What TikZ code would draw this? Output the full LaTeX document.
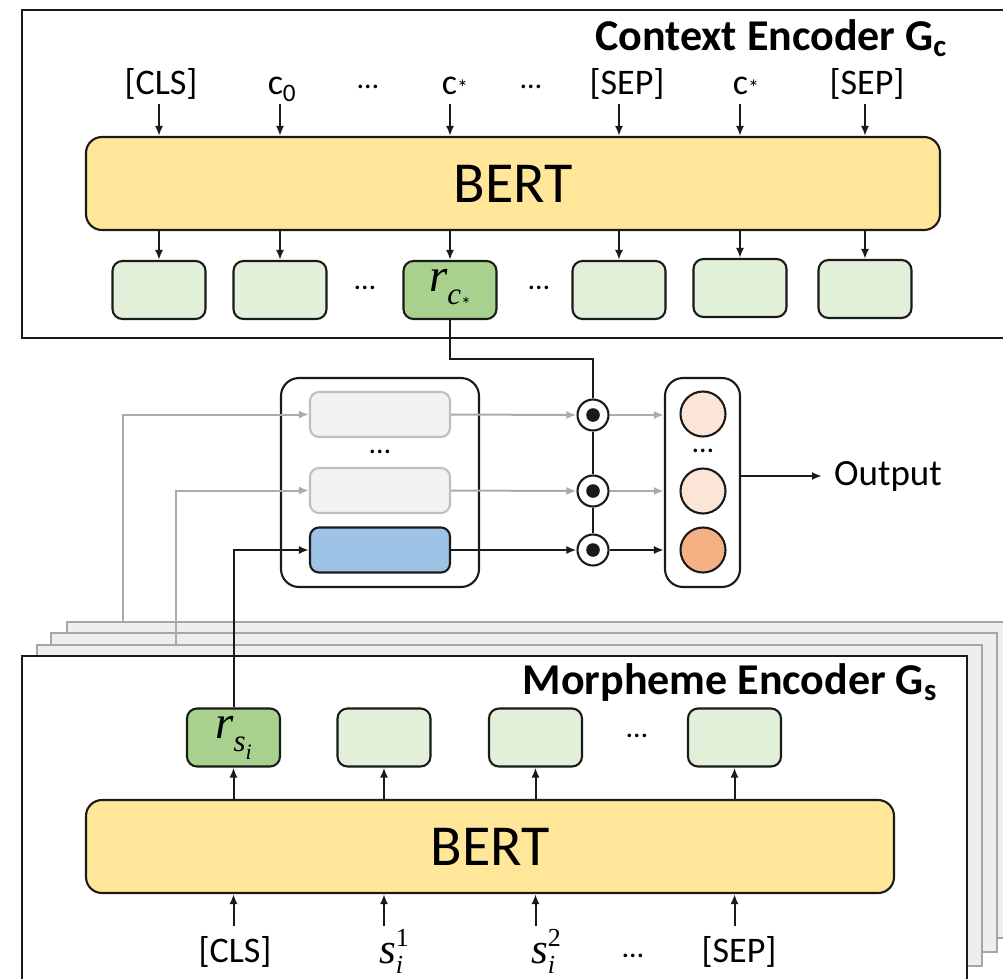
\documentclass[tikz,border=0pt]{standalone}
\usepackage{fontspec}
\setmainfont{Carlito}
\newfontfamily\symfont{Liberation Serif}
\usetikzlibrary{arrows.meta}

\definecolor{bertfill}{HTML}{FFE699}
\definecolor{vecfill}{HTML}{E2F0D9}
\definecolor{vecdark}{HTML}{A9D18E}
\definecolor{bluefill}{HTML}{9DC3E6}
\definecolor{fadefill}{HTML}{F2F2F2}
\definecolor{fadedraw}{HTML}{BFBFBF}
\definecolor{orlight}{HTML}{FBE5D6}
\definecolor{ordark}{HTML}{F4B183}
\definecolor{backfill}{HTML}{EEEEEE}
\definecolor{backdraw}{HTML}{A6A6A6}
\definecolor{linegray}{HTML}{ABABAB}
\definecolor{ink}{HTML}{1A1A1A}

% italic symbols with hand-set scripts
\newcommand{\vi}[1]{{\symfont\itshape #1}}
\newcommand{\rcstar}{\vi{r}\raisebox{-0.28em}{\fontsize{31}{31}\selectfont\vi{c}\raisebox{-0.22em}{\fontsize{20}{20}\selectfont *}}}
\newcommand{\rsi}{\vi{r}\raisebox{-0.28em}{\fontsize{31}{31}\selectfont\vi{s}\raisebox{-0.25em}{\fontsize{22}{22}\selectfont\vi{i}}}}
\newcommand{\sis}[1]{\vi{s}\rlap{\raisebox{0.38em}{\fontsize{26}{26}\selectfont\symfont #1}}\raisebox{-0.24em}{\fontsize{26}{26}\selectfont\vi{i}}\hspace{0.2em}}

\begin{document}
\begin{tikzpicture}[x=1pt,y=-1pt,
  frame/.style={draw=ink, line width=2.2pt, fill=white, inner sep=0},
  backframe/.style={draw=backdraw, line width=1.9pt, fill=backfill, inner sep=0},
  bert/.style={draw=ink, line width=2.1pt, fill=bertfill, rounded corners=16pt,
    inner sep=0, font=\fontsize{58}{60}\selectfont},
  vec/.style={draw=ink, line width=2.1pt, fill=vecfill, rounded corners=10pt,
    minimum width=93pt, minimum height=58pt, inner sep=0},
  vecsel/.style={vec, fill=vecdark, font=\fontsize{47}{48}\selectfont},
  hid/.style={draw=ink, line width=2.1pt, rounded corners=9pt,
    minimum width=140pt, minimum height=45pt, inner sep=0},
  fade/.style={hid, draw=fadedraw, fill=fadefill},
  holder/.style={draw=ink, line width=2.1pt, fill=white, rounded corners=18pt, inner sep=0},
  odot/.style={circle, draw=ink, line width=2.1pt, fill=white, minimum size=31pt, inner sep=0,
    path picture={\fill[ink] (path picture bounding box.center) circle (6.8pt);}},
  prob/.style={circle, draw=ink, line width=2.1pt, minimum size=45pt, inner sep=0},
  tok/.style={font=\fontsize{36}{40}\selectfont, anchor=base, inner sep=0},
  mtok/.style={font=\fontsize{43}{46}\selectfont, anchor=base, inner sep=0},
  dots/.style={font=\fontsize{30}{32}\selectfont, inner sep=0},
  title/.style={font=\fontsize{44}{46}\selectfont\bfseries, anchor=base east, inner sep=0},
  arr/.style={-{Latex[length=10pt,width=8pt]}, line width=2pt, draw=ink},
  garr/.style={arr, draw=linegray},
  wire/.style={line width=2pt, draw=ink}
]
\useasboundingbox (0,0) rectangle (1003,978);
\begin{scope}
\clip (0,0) rectangle (1003,978);

% ---------------- context encoder ----------------
\node[frame, minimum width=998pt, minimum height=328pt] (ctx) at (521,174) {};
\node[title] (ctitle) at (947,50) {Context Encoder G\textsubscript{c}};

\node[tok] (t1) at (161,94) {[CLS]};
\node[tok] (t2) at (282,94) {c\textsubscript{0}};
\node[dots] (t3) at (368,87) {…};
\node[tok] (t4) at (455,94) {c\raisebox{-0.05em}{\fontsize{22}{22}\selectfont *}};
\node[dots] (t5) at (531,87) {…};
\node[tok] (t6) at (627,94) {[SEP]};
\node[tok] (t7) at (746,94) {c\raisebox{-0.05em}{\fontsize{22}{22}\selectfont *}};
\node[tok] (t8) at (867,94) {[SEP]};

\node[bert, minimum width=854pt, minimum height=93pt] (bc) at (513,183.5) {BERT};

\node[vec] (v1) at (159,290) {};
\node[vec] (v2) at (280,290) {};
\node[dots] (vd1) at (365,288) {…};
\node[vecsel] (rc) at (450,290) {\rcstar};
\node[dots] (vd2) at (539,288) {…};
\node[vec] (v4) at (619,290) {};
\node[vec] (v5) at (740,288) {};
\node[vec] (v6) at (865,289) {};

\foreach \v in {v1,v2,rc,v4,v5,v6} {
  \coordinate (in-\v) at (\v.north |- 0,104);
  \draw[arr] (in-\v) -- (in-\v |- bc.north);
  \draw[arr] (\v.north |- bc.south) -- (\v.north);
}

% ---------------- morpheme encoder stack ----------------
\node[backframe, minimum width=945pt, minimum height=316pt] (bk3) at (539.5,780) {};
\node[backframe, minimum width=946pt, minimum height=319pt] (bk2) at (524,792.5) {};
\node[backframe, minimum width=945pt, minimum height=321pt] (bk1) at (509.5,805.5) {};
\node[frame, minimum width=945pt, minimum height=334pt] (mor) at (494.5,823) {};
\node[title] (mtitle) at (937,694) {Morpheme Encoder G\textsubscript{s}};

\node[vecsel] (rs) at (233.5,737.5) {\rsi};
\node[vec] (s2) at (384,737.5) {};
\node[vec] (s3) at (535.5,737.5) {};
\node[dots] (sd) at (637,736) {…};
\node[vec] (s4) at (734.5,737.5) {};

\node[bert, minimum width=808pt, minimum height=93pt] (bs) at (490,846.5) {BERT};

\node[tok] (b1) at (235,962) {[CLS]};
\node[mtok] (b2) at (391,963) {\sis{1}};
\node[mtok] (b3) at (543,963) {\sis{2}};
\node[dots] (b4) at (633,956) {…};
\node[tok] (b5) at (739,962) {[SEP]};

\foreach \v in {rs,s2,s3,s4} {
  \coordinate (up-\v) at (\v.south |- 0,926);
  \draw[arr] (up-\v) -- (up-\v |- bs.south);
  \draw[arr] (\v.south |- bs.north) -- (\v.south);
}

% ---------------- attention / scoring ----------------
\node[holder, minimum width=198pt, minimum height=209pt] (hold) at (380,482.5) {};
\node[fade] (h1) at (380,414.5) {};
\node[dots] (hd) at (380,452) {…};
\node[fade] (h2) at (380,490.5) {};
\node[hid, fill=bluefill] (h3) at (380,550) {};

\node[holder, minimum width=75pt, minimum height=209pt] (oc) at (702.5,482.5) {};
\node[prob, fill=orlight] (p1) at (703,414) {};
\node[dots] (pd) at (703,451) {…};
\node[prob, fill=orlight] (p2) at (703,491) {};
\node[prob, fill=ordark] (p3) at (703,550) {};

\node[odot] (m1) at (593,415) {};
\node[odot] (m2) at (593,491) {};
\node[odot] (m3) at (593,550) {};

% context vector feeding the products
\draw[wire] (rc.south) -- ++(0,39) -| (m1.north);
\draw[wire] (m1.south) -- (m2.north);
\draw[wire] (m2.south) -- (m3.north);

% morpheme vectors feeding the hidden boxes
\coordinate (g1) at (123,622);
\coordinate (g2) at (176,645);
\draw[garr] (g1) |- (h1.west);
\draw[garr] (g2) |- (h2.west);
\draw[arr] (rs.north) |- (h3.west);

\draw[garr] (h1.east) -- (m1.west);
\draw[garr] (h2.east) -- (m2.west);
\draw[arr] (h3.east) -- (m3.west);
\draw[garr] (m1.east) -- (m1.east -| oc.west);
\draw[garr] (m2.east) -- (m2.east -| oc.west);
\draw[arr] (m3.east) -- (m3.east -| oc.west);

\node[font=\fontsize{37}{40}\selectfont, anchor=west, inner sep=0] (out) at (834,476) {Output};
\draw[arr] (oc.east |- out.west) -- ([xshift=-12pt]out.west);
\end{scope}
\end{tikzpicture}
\end{document}
